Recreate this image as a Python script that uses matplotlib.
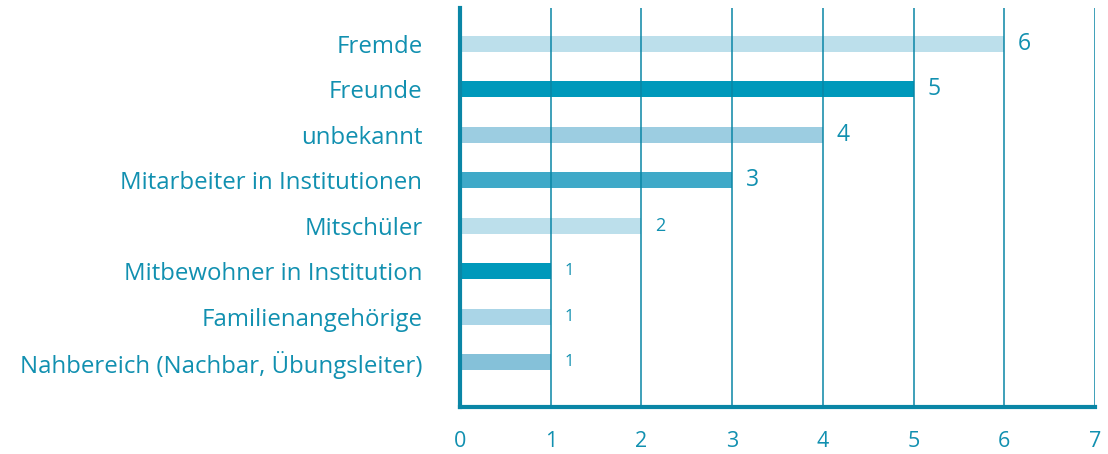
import matplotlib
matplotlib.use("Agg")
import matplotlib.pyplot as plt

categories = ["Nahbereich (Nachbar, Übungsleiter)", "Familienangehörige",
              "Mitbewohner in Institution", "Mitschüler",
              "Mitarbeiter in Institutionen", "unbekannt", "Freunde", "Fremde"]
values = [1, 1, 1, 2, 3, 4, 5, 6]
colors = ["#85c1d9", "#aad5e7", "#0099bb", "#bcdfeb",
          "#3fa9c8", "#9ccde1", "#0099bb", "#bcdfeb"]
label_sizes = [12, 12, 12, 13, 16.5, 16.5, 16.5, 16.5]
xticks = [0, 1, 2, 3, 4, 5, 6, 7]

axis_col = "#0a86a6"
text_col = "#1190b0"

plt.rcParams['font.family'] = ['Open Sans', 'DejaVu Sans']

fig = plt.figure(figsize=(11.08, 4.54), dpi=100)
ax = fig.add_axes([460/1108, 1 - 407/454, (1095-460)/1108, (407-8)/454])

ypos = list(range(len(categories)))
ax.barh(ypos, values, height=0.35, color=colors, zorder=1)
for x in xticks[1:]:
    ax.axvline(x, color=axis_col, lw=1.1, zorder=2)

for y, v, s in zip(ypos, values, label_sizes):
    ax.text(v + 0.15, y, str(v), va='center', ha='left', fontsize=s, color=text_col)

ax.set_xlim(0, 7)
ax.set_ylim(-0.99, 7.79)
ax.set_yticks(ypos)
ax.set_yticklabels(categories, fontsize=17.3, color=text_col)
ax.set_xticks(xticks)
ax.set_xticklabels([str(t) for t in xticks], fontsize=15.5, color=text_col)
ax.tick_params(axis='y', length=0, pad=27)
ax.tick_params(axis='x', length=0, pad=17)
for side in ['top', 'right']:
    ax.spines[side].set_visible(False)
for side in ['left', 'bottom']:
    ax.spines[side].set_color(axis_col)
    ax.spines[side].set_linewidth(3)
    ax.spines[side].set_zorder(3)

fig.savefig("out.png", dpi=100)
